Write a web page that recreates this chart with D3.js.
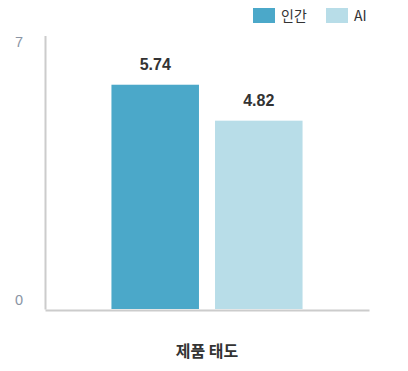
<!DOCTYPE html>
<html>
<head>
<meta charset="utf-8">
<style>
body { margin: 0; background: #fff; }
svg { display: block; font-family: "Liberation Sans", "Noto Sans CJK KR", sans-serif; }
</style>
<script src="https://d3js.org/d3.v7.min.js"></script>
</head>
<body>
<div id="chart"></div>
<script>
// data
var categories = ["제품 태도"]
var seriesNames = ["인간", "AI"]
var humanValues = [5.74]
var aiValues = [4.82]
var yTicks = [0, 7]
var colors = ["#4ba8c9", "#b8dde8"]

var width = 408, height = 371
var margin = {top: 35.5, right: 39, bottom: 62, left: 45}

var svg = d3.select("#chart").append("svg")
  .attr("width", width)
  .attr("height", height)

var rows = categories.map(function(c, i) {
  return {cat: c, values: [humanValues[i], aiValues[i]]}
})

var x0 = d3.scaleBand()
  .domain(categories)
  .range([margin.left, width - margin.right])
  .padding(0.258)

var x1 = d3.scaleBand()
  .domain(seriesNames)
  .range([0, x0.bandwidth()])
  .paddingInner(0.155)

var y = d3.scaleLinear()
  .domain([0, 7])
  .range([height - margin.bottom, margin.top])

// y axis
var yAxis = svg.append("g")
  .attr("transform", "translate(" + margin.left + ",0)")
  .call(d3.axisLeft(y).tickValues(yTicks).tickFormat(d3.format("d")).tickSize(0).tickSizeOuter(0).tickPadding(24))
yAxis.select(".domain").attr("stroke", "#cccccc").attr("stroke-width", 2)
yAxis.selectAll("text")
  .attr("fill", "#8a94a4")
  .style("font-size", "14.5px")
  .style("font-family", "Liberation Sans, sans-serif")
  .attr("text-anchor", "middle")
  .attr("transform", function(d) { return "translate(-2," + (d === 0 ? -9 : 6.5) + ")" })

// bars
var groups = svg.selectAll(".grp")
  .data(rows)
  .enter().append("g")
    .attr("transform", function(d) { return "translate(" + x0(d.cat) + ",0)" })

groups.selectAll("rect")
  .data(function(d) { return d.values.map(function(v, i) { return {key: seriesNames[i], value: v, i: i} }) })
  .enter().append("rect")
    .attr("x", function(d) { return x1(d.key) })
    .attr("width", x1.bandwidth())
    .attr("y", function(d) { return y(d.value) })
    .attr("height", function(d) { return y(0) - y(d.value) })
    .attr("fill", function(d) { return colors[d.i] })

groups.selectAll(".val")
  .data(function(d) { return d.values.map(function(v, i) { return {key: seriesNames[i], value: v} }) })
  .enter().append("text")
    .attr("x", function(d) { return x1(d.key) + x1.bandwidth() / 2 })
    .attr("y", function(d) { return y(d.value) - 15 })
    .attr("text-anchor", "middle")
    .attr("fill", "#333333")
    .style("font-size", "16px")
    .style("font-weight", "bold")
    .text(function(d) { return d.value.toFixed(2) })

// x axis
var xAxis = svg.append("g")
  .attr("transform", "translate(0," + (height - margin.bottom + 1) + ")")
  .call(d3.axisBottom(x0).tickSize(0).tickSizeOuter(0).tickPadding(36))
xAxis.select(".domain").attr("stroke", "#cccccc").attr("stroke-width", 2)
xAxis.selectAll("text")
  .attr("fill", "#333333")
  .style("font-size", "16px")
  .style("font-weight", "bold")
  .style("font-family", "Noto Sans CJK KR, sans-serif")

// legend
var legendX = [253, 326]
var legend = svg.selectAll(".leg")
  .data(seriesNames)
  .enter().append("g")
    .attr("transform", function(d, i) { return "translate(" + legendX[i] + ",8)" })
legend.append("rect")
  .attr("width", 22)
  .attr("height", 15)
  .attr("fill", function(d, i) { return colors[i] })
legend.append("text")
  .attr("x", 28)
  .attr("y", 12.5)
  .attr("fill", "#333333")
  .style("font-size", "14px")
  .style("font-family", "Noto Sans CJK KR, sans-serif")
  .text(function(d) { return d })
</script>
</body>
</html>
